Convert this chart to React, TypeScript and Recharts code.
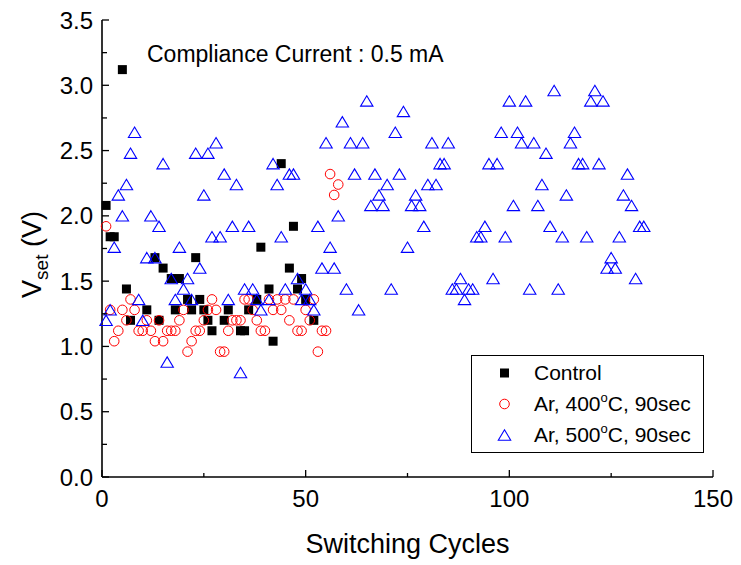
import { ScatterChart, Scatter, XAxis, YAxis, Legend } from 'recharts';

const FONT = '"Liberation Sans", Arial, Helvetica, sans-serif';

const seriesNames = ['Control', 'Ar, 400°C, 90sec', 'Ar, 500°C, 90sec'];

// Control (black squares)
const controlCycles = [1, 2, 3, 5, 6, 7, 11, 13, 14, 15, 17, 18, 19, 21, 22, 23, 24, 25, 26, 27, 30, 31, 34, 35, 36, 38, 39, 41, 42, 44, 46, 47, 48, 49, 50, 52];
const controlVset = [2.08, 1.84, 1.84, 3.12, 1.44, 1.2, 1.28, 1.68, 1.2, 1.6, 1.52, 1.28, 1.52, 1.36, 1.28, 1.68, 1.36, 1.28, 1.2, 1.12, 1.2, 1.28, 1.12, 1.12, 1.28, 1.36, 1.76, 1.44, 1.04, 2.4, 1.6, 1.92, 1.44, 1.52, 1.36, 1.2];

// Ar, 400C, 90sec (red circles)
const ar400Cycles = [1, 2, 3, 4, 5, 6, 7, 8, 9, 10, 11, 12, 13, 14, 15, 16, 17, 18, 19, 20, 21, 22, 23, 24, 25, 26, 27, 28, 29, 30, 31, 32, 33, 34, 35, 36, 37, 38, 39, 40, 41, 42, 43, 44, 45, 46, 47, 48, 49, 50, 51, 52, 53, 54, 55, 56, 57, 58];
const ar400Vset = [
  1.92, 1.28, 1.04, 1.12, 1.28, 1.2, 1.36, 1.28, 1.12, 1.12,
  1.2, 1.12, 1.04, 1.2, 1.04, 1.12, 1.12, 1.12, 1.2, 1.28,
  0.96, 1.04, 1.12, 1.12, 1.2, 1.28, 1.36, 1.28, 0.96, 0.96,
  1.12, 1.2, 1.2, 1.2, 1.36, 1.36, 1.28, 1.2, 1.12, 1.12,
  1.36, 1.28, 1.36, 1.28, 1.36, 1.2, 1.36, 1.12, 1.12, 1.28,
  1.2, 1.36, 0.96, 1.12, 1.12, 2.32, 2.16, 2.24,
];

// Ar, 500C, 90sec (blue triangles)
const ar500Cycles = [
  1, 2, 3, 4, 5, 6, 7, 8, 9, 10, 11, 12, 13, 14, 15, 16, 17, 18, 19, 20,
  21, 22, 23, 24, 25, 26, 27, 28, 29, 30, 31, 32, 33, 34, 35, 36, 37, 38, 39,
  41, 42, 43, 44, 45, 46, 47, 48, 49, 50, 51, 52, 53, 54, 55, 56, 57, 58, 59, 60,
  61, 62, 63, 64, 65, 66, 67, 68, 69, 70, 71, 72, 73, 74, 75, 76, 77, 78, 79, 80,
  81, 82, 83, 84, 85, 86, 87, 88, 89, 90, 91, 92, 93, 94, 95, 96, 97, 98, 99, 100,
  101, 102, 103, 104, 105, 106, 107, 108, 109, 110, 111, 112, 113, 114, 115, 116, 117, 118, 119, 120,
  121, 122, 123, 124, 125, 126, 127, 128, 129, 130, 131, 132, 133,
];
const ar500Vset = [
  1.2, 1.28, 1.76, 2.16, 2.0, 2.24, 2.48, 2.64, 1.36, 1.2,
  1.68, 2.0, 1.68, 1.92, 2.4, 0.88, 1.52, 1.36, 1.76, 1.44,
  1.52, 1.36, 2.48, 1.6, 2.16, 2.48, 1.84, 2.56, 1.84, 2.32,
  1.36, 1.92, 2.24, 0.8, 1.44, 1.92, 1.44, 1.36, 1.28,
  1.36, 2.4, 2.24, 1.84, 1.44, 2.32, 2.32, 1.52, 1.36, 1.44,
  1.36, 1.28, 1.92, 1.6, 2.56, 1.76, 1.6, 2.0, 2.72, 1.44,
  2.56, 2.32, 1.28, 2.56, 2.88, 2.08, 2.32, 2.16, 2.08, 2.24,
  1.44, 2.64, 2.32, 2.8, 1.76, 2.08, 2.16, 2.08, 1.92, 2.24,
  2.56, 2.24, 2.4, 2.4, 2.56, 1.44, 1.44, 1.52, 1.36, 1.44,
  1.44, 1.84, 1.84, 1.92, 2.4, 1.52, 2.4, 2.64, 1.84, 2.88,
  2.08, 2.64, 2.56, 2.88, 1.44, 2.56, 2.08, 2.24, 2.48, 1.92,
  2.96, 1.44, 1.84, 2.16, 2.56, 2.64, 2.4, 2.4, 1.84, 2.88,
  2.96, 2.4, 2.88, 1.6, 1.68, 1.6, 1.84, 2.16, 2.32, 2.08,
  1.52, 1.92, 1.92,
];

const xTicks = [0, 25, 50, 75, 100, 125, 150];
const xTopTicks = [15, 30, 45, 60, 75, 90, 105, 120, 135];
const yTicks = [0, 0.25, 0.5, 0.75, 1, 1.25, 1.5, 1.75, 2, 2.25, 2.5, 2.75, 3, 3.25, 3.5];

const zip = (xs: number[], ys: number[]) => xs.map((x, i) => ({ x, y: ys[i] }));
const controlData = zip(controlCycles, controlVset);
const ar400Data = zip(ar400Cycles, ar400Vset);
const ar500Data = zip(ar500Cycles, ar500Vset);

const Square = ({ cx, cy }: any) => <rect x={cx - 4.5} y={cy - 4.5} width={9} height={9} fill="#000" />;
const Circle = ({ cx, cy }: any) => <circle cx={cx} cy={cy} r={4.8} fill="none" stroke="#ff0000" strokeWidth={1} />;
const Triangle = ({ cx, cy }: any) => (
  <path d={`M${cx},${cy - 5.2} L${cx + 6.2},${cy + 5.2} L${cx - 6.2},${cy + 5.2} Z`} fill="none" stroke="#0000ff" strokeWidth={1.1} />
);

const BottomTick = ({ x, y, payload }: any) => {
  const major = payload.value % 50 === 0;
  return (
    <g>
      <line x1={x} x2={x} y1={y} y2={y - (major ? 7 : 4)} stroke="#000" strokeWidth={1.3} />
      {major && (
        <text x={x} y={y + 30} textAnchor="middle" fontSize={24} fontFamily={FONT} fill="#000">
          {payload.value}
        </text>
      )}
    </g>
  );
};

const TopTick = ({ x, y }: any) => <line x1={x} x2={x} y1={y} y2={y + 5} stroke="#000" strokeWidth={1.3} />;

const LeftTick = ({ x, y, payload }: any) => {
  const major = Math.abs((payload.value * 2) % 1) < 1e-6;
  return (
    <g>
      <line x1={x} x2={x + (major ? 7 : 5)} y1={y} y2={y} stroke="#000" strokeWidth={1.3} />
      {major && (
        <text x={x - 9} y={y + 8.5} textAnchor="end" fontSize={24} fontFamily={FONT} fill="#000">
          {payload.value.toFixed(1)}
        </text>
      )}
    </g>
  );
};

const RightTick = ({ x, y }: any) => <line x1={x} x2={x - 5} y1={y} y2={y} stroke="#000" strokeWidth={1.3} />;

const legendMarkers: Record<string, (cy: number) => any> = {
  Control: (cy) => <rect x={29} y={cy - 4.5} width={9} height={9} fill="#000" />,
  'Ar, 400°C, 90sec': (cy) => <circle cx={33.5} cy={cy} r={4.8} fill="none" stroke="#ff0000" />,
  'Ar, 500°C, 90sec': (cy) => (
    <path d={`M33.5,${cy - 5.2} L39.7,${cy + 5.2} L27.3,${cy + 5.2} Z`} fill="none" stroke="#0000ff" strokeWidth={1.1} />
  ),
};

const LegendBox = ({ payload }: any) => {
  const items = [...(payload || [])].sort(
    (a: any, b: any) => seriesNames.indexOf(String(a.value)) - seriesNames.indexOf(String(b.value)),
  );
  return (
    <svg width={233} height={98} style={{ display: 'block' }}>
      <rect x={0.5} y={0.5} width={232} height={97} fill="#fff" stroke="#000" strokeWidth={1} />
      {items.map((p: any, i: number) => {
        const label = String(p.value);
        const m = label.match(/^(.*\d)°(C.*)$/);
        const cy = 18 + i * 31;
        return (
          <g key={label}>
            {legendMarkers[label] ? legendMarkers[label](cy) : null}
            <text x={63} y={cy + 7} fontSize={21} fontFamily={FONT} fill="#000">
              {m ? (
                <>
                  {m[1]}
                  <tspan dy={-9} fontSize={13}>o</tspan>
                  <tspan dy={9}>{m[2]}</tspan>
                </>
              ) : (
                label
              )}
            </text>
          </g>
        );
      })}
    </svg>
  );
};

const YTitle = ({ viewBox }: any) => {
  const cx = 33;
  const cy = viewBox.y + viewBox.height / 2 + 6;
  return (
    <text x={cx} y={cy} transform={`rotate(-90 ${cx} ${cy})`} textAnchor="middle" fontSize={27} fontFamily={FONT} fill="#000">
      V<tspan dy={7} fontSize={19}>set</tspan>
      <tspan dy={-7}> (V)</tspan>
    </text>
  );
};

const XTitle = ({ viewBox }: any) => (
  <text x={viewBox.x + viewBox.width / 2} y={545} textAnchor="middle" fontSize={27} fontFamily={FONT} fill="#000">
    Switching Cycles
  </text>
);

export default function App() {
  return (
    <ScatterChart width={733} height={557} margin={{ top: 12, right: 28, bottom: 0, left: 0 }}>
      <XAxis
        xAxisId="b"
        type="number"
        dataKey="x"
        domain={[0, 150]}
        ticks={xTicks}
        interval={0}
        height={88}
        tickSize={0}
        tickMargin={0}
        tick={<BottomTick />}
        axisLine={{ stroke: '#000', strokeWidth: 1.6 }}
        tickLine={false}
        label={{ content: <XTitle /> }}
      />
      <XAxis
        xAxisId="t"
        orientation="top"
        type="number"
        dataKey="x"
        domain={[0, 150]}
        ticks={xTopTicks}
        interval={0}
        height={0}
        tickSize={0}
        tickMargin={0}
        tick={<TopTick />}
        axisLine={{ stroke: '#000', strokeWidth: 1.6 }}
        tickLine={false}
      />
      <YAxis
        yAxisId="l"
        type="number"
        dataKey="y"
        domain={[0, 3.5]}
        ticks={yTicks}
        interval={0}
        width={94}
        tickSize={0}
        tickMargin={0}
        tick={<LeftTick />}
        axisLine={{ stroke: '#000', strokeWidth: 1.6 }}
        tickLine={false}
        label={{ content: <YTitle /> }}
      />
      <YAxis
        yAxisId="r"
        orientation="right"
        type="number"
        dataKey="y"
        domain={[0, 3.5]}
        ticks={yTicks}
        interval={0}
        width={0}
        tickSize={0}
        tickMargin={0}
        tick={<RightTick />}
        axisLine={{ stroke: '#000', strokeWidth: 1.6 }}
        tickLine={false}
      />
      <Legend
        layout="horizontal"
        align="center"
        verticalAlign="middle"
        content={<LegendBox />}
        wrapperStyle={{ position: 'absolute', left: 463, top: 347, width: 233, height: 98 }}
      />
      <Scatter name={seriesNames[0]} data={controlData} xAxisId="b" yAxisId="l" shape={<Square />} fill="#000" isAnimationActive={false} />
      <Scatter name={seriesNames[1]} data={ar400Data} xAxisId="b" yAxisId="l" shape={<Circle />} fill="#ff0000" isAnimationActive={false} />
      <Scatter name={seriesNames[2]} data={ar500Data} xAxisId="b" yAxisId="l" shape={<Triangle />} fill="#0000ff" isAnimationActive={false} />
      <text x={139} y={54} fontSize={23} fontFamily={FONT} fill="#000">
        Compliance Current : 0.5 mA
      </text>
    </ScatterChart>
  );
}
